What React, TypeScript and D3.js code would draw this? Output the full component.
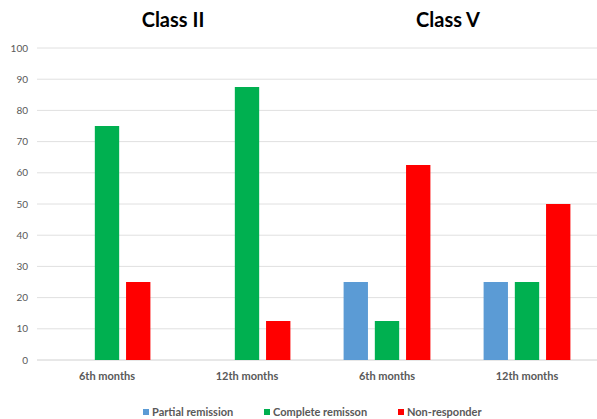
import React from "react";
import * as d3 from "d3";

const groups = ["II-6", "II-12", "V-6", "V-12"];
const groupLabels = ["6th months", "12th months", "6th months", "12th months"];
const series = ["Partial remission", "Complete remisson", "Non-responder"];
const partial = [0, 0, 25, 25];
const complete = [75, 87.5, 12.5, 25];
const nonResp = [25, 12.5, 62.5, 50];
const colors = ["#5B9BD5", "#00B050", "#FF0000"];
const yTicks = [0, 10, 20, 30, 40, 50, 60, 70, 80, 90, 100];
const titles = ["Class II", "Class V"];

const W = 597, H = 419;
const left = 37, right = 597, top = 48, bottom = 360;

export default function App() {
  const x0 = d3.scaleBand<string>().domain(groups).range([left, right]).paddingInner(0.38).paddingOuter(0.19);
  const x1 = d3.scaleBand<string>().domain(series).range([0, x0.bandwidth()]).paddingInner(0.22);
  const y = d3.scaleLinear().domain([0, 100]).range([bottom, top]);
  const values = [partial, complete, nonResp];
  const font = "Lato, 'Open Sans', sans-serif";
  const gcenter = (i: number) => (x0(groups[i]) as number) + x0.bandwidth() / 2;
  const titleX = [(gcenter(0) + gcenter(1)) / 2 - 4, (gcenter(2) + gcenter(3)) / 2 - 9];
  const legendItems = [
    { x: 143, label: series[0] },
    { x: 264, label: series[1] },
    { x: 398, label: series[2] },
  ];
  return (
    <svg width={W} height={H} style={{ position: "absolute", left: 0, top: 0, background: "#fff" }} fontFamily={font}>
      {yTicks.map((t) => (
        <g key={t}>
          <line x1={left} x2={right} y1={y(t)} y2={y(t)} stroke={t === 0 ? "#D0D0D0" : "#E0E0E0"} strokeWidth={1} />
          <text x={28} y={y(t) + 3.5} fontSize={10} fill="#595959" textAnchor="end">{t}</text>
        </g>
      ))}
      {groups.map((g, gi) => (
        <g key={g}>
          {series.map((s, si) => {
            const v = values[si][gi];
            if (!v) return null;
            return (
              <rect key={s} x={(x0(g) as number) + (x1(s) as number)} width={x1.bandwidth()} y={y(v)} height={y(0) - y(v)} fill={colors[si]} />
            );
          })}
          <text x={gcenter(gi)} y={380} fontSize={11} fontWeight="bold" fill="#595959" textAnchor="middle">{groupLabels[gi]}</text>
        </g>
      ))}
      {titles.map((t, i) => (
        <text key={t} x={titleX[i]} y={27} fontSize={20} fontWeight="bold" fill="#000" textAnchor="middle">{t}</text>
      ))}
      {legendItems.map((l, i) => (
        <g key={l.label}>
          <rect x={l.x} y={409} width={6} height={6} fill={colors[i]} />
          <text x={l.x + 9} y={416} fontSize={11} fontWeight="bold" fill="#595959">{l.label}</text>
        </g>
      ))}
    </svg>
  );
}
